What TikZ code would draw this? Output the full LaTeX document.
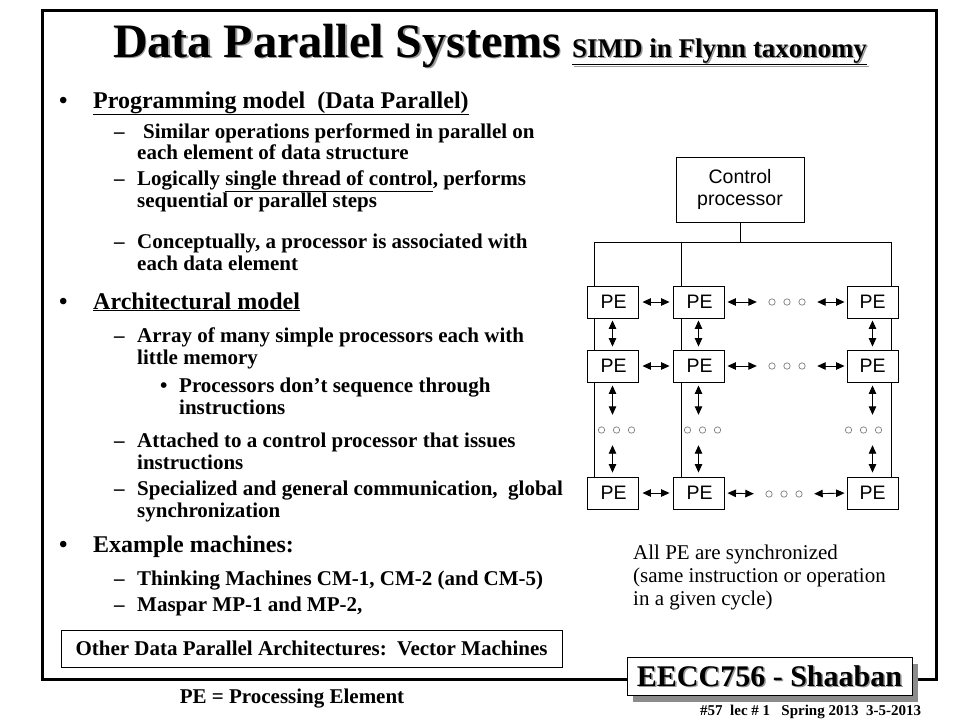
\documentclass[tikz,border=0pt]{standalone}
\usepackage{fontspec}
\setmainfont{Liberation Serif}
\newfontfamily\arialf{Liberation Sans}
\usetikzlibrary{arrows.meta,shadows}
\newcommand\shtext[2]{\rlap{\kern#1\raisebox{-#1}{\textcolor{black!40}{#2}}}#2}
\tikzset{
  bul/.style={anchor=base west, inner sep=0pt, font=\bfseries\fontsize{24}{28}\selectfont},
  sub/.style={anchor=base west, inner sep=0pt, font=\bfseries\fontsize{21}{24}\selectfont},
  plain/.style={anchor=base west, inner sep=0pt, font=\fontsize{21}{24}\selectfont},
  pebox/.style={draw, fill=white, line width=0.9pt, minimum width=51pt, minimum height=32pt, inner sep=0pt, font=\arialf\fontsize{19.5}{22}\selectfont},
  biarrow/.style={{Triangle[length=8.5pt,width=7.5pt]}-{Triangle[length=8.5pt,width=7.5pt]}, line width=0.9pt},
  wire/.style={line width=0.9pt},
  dotsnode/.style={inner sep=0pt, minimum width=40pt, minimum height=10pt},
  smalldot/.style={draw=black!50, line width=0.7pt, fill=white},
}
\begin{document}
\begin{tikzpicture}[x=1pt,y=-1pt]
\useasboundingbox (0,0) rectangle (960,720);
\fill[white] (0,0) rectangle (960,720);
% frame
\draw[line width=3pt] (42,10) rectangle (936,679);

% title
\node[anchor=base west, inner sep=0pt, font=\bfseries\fontsize{48}{50}\selectfont] (title) at (113,57) {\shtext{1.5pt}{Data Parallel Systems}};
\node[anchor=base west, inner sep=0pt, font=\bfseries\fontsize{27}{30}\selectfont] (subtitle) at (572,57) {\shtext{1.5pt}{\underline{SIMD in Flynn taxonomy}}};

% left text
\node[bul] (b1) at (59,108) {•};
\node[bul] (t1) at (93,108) {\underline{Programming model\ \ (Data Parallel)}};
\node[sub] (d11) at (114,138) {–};
\node[sub] (t11a) at (143,138) {Similar operations performed in parallel on};
\node[sub] (t11b) at (137,159) {each element of data structure};
\node[sub] (d12) at (114,185) {–};
\node[sub] (t12a) at (137,185) {Logically \underline{single thread of control}, performs};
\node[sub] (t12b) at (137,207) {sequential or parallel steps};
\node[sub] (d13) at (114,248) {–};
\node[sub] (t13a) at (137,248) {Conceptually, a processor is associated with};
\node[sub] (t13b) at (137,270) {each data element};

\node[bul] (b2) at (59,309) {•};
\node[bul] (t2) at (93,309) {\underline{Architectural model}};
\node[sub] (d21) at (114,342) {–};
\node[sub] (t21a) at (137,342) {Array of many simple processors each with};
\node[sub] (t21b) at (137,364) {little memory};
\node[sub] (b211) at (160,392) {•};
\node[sub] (t211a) at (179,392) {Processors don’t sequence through};
\node[sub] (t211b) at (179,414) {instructions};
\node[sub] (d22) at (114,447) {–};
\node[sub] (t22a) at (137,447) {Attached to a control processor that issues};
\node[sub] (t22b) at (137,469) {instructions};
\node[sub] (d23) at (114,495) {–};
\node[sub] (t23a) at (137,495) {Specialized and general communication,\ \ global};
\node[sub] (t23b) at (137,517) {synchronization};

\node[bul] (b3) at (59,552) {•};
\node[bul] (t3) at (93,552) {Example machines:};
\node[sub] (d31) at (114,585) {–};
\node[sub] (t31) at (137,585) {Thinking Machines CM-1, CM-2 (and CM-5)};
\node[sub] (d32) at (114,611) {–};
\node[sub] (t32) at (137,611) {Maspar MP-1 and MP-2,};

\node[draw, line width=0.9pt, minimum width=501pt, minimum height=37pt, inner sep=0pt, font=\bfseries\fontsize{21}{24}\selectfont] (other) at (311.5,648.5) {Other Data Parallel Architectures:\ \ Vector Machines};

\node[anchor=base, inner sep=0pt, font=\bfseries\fontsize{21}{24}\selectfont] (peeq) at (292,703) {PE = Processing Element};

% EECC box
\node[draw, fill=white, line width=0.9pt, minimum width=285pt, minimum height=38pt, inner sep=0pt,
      drop shadow={shadow xshift=6pt, shadow yshift=-7pt, fill=black!45, opacity=1}] (eecc) at (769.5,676) {};
\node[anchor=base, inner sep=0pt, font=\bfseries\fontsize{30}{32}\selectfont] (eecct) at (769.5,686) {\shtext{1.5pt}{EECC756 - Shaaban}};
\node[anchor=base west, inner sep=0pt, font=\bfseries\fontsize{15}{17}\selectfont] (foot) at (700,715) {\#57\ \ lec \# 1\ \ \ Spring 2013\ \ 3-5-2013};

% right caption
\node[plain] (r1) at (633,559) {All PE are synchronized};
\node[plain] (r2) at (633,582) {(same instruction or operation};
\node[plain] (r3) at (633,605) {in a given cycle)};

% diagram: control processor and bus
\node[draw, line width=0.9pt, minimum width=128pt, minimum height=65pt, inner sep=0pt, align=center,
      font=\arialf\fontsize{19.5}{22}\selectfont] (ctrl) at (740,189.5) {Control\\processor};
\coordinate (bm) at (740,242);
\coordinate (bl) at (594,242);
\coordinate (bc) at (681,242);
\coordinate (br) at (891,242);
\draw[wire] (ctrl.south) -- (bm);
\draw[wire] (bl) -- (br);

% PE nodes
\node[pebox] (p11) at (612.5,302) {\kern2pt PE};
\node[pebox] (p12) at (698.5,302) {\kern2pt PE};
\node[pebox] (p13) at (872.5,302) {PE};
\node[pebox] (p21) at (612.5,366) {\kern2pt PE};
\node[pebox] (p22) at (698.5,366) {\kern2pt PE};
\node[pebox] (p23) at (872.5,366) {PE};
\node[pebox] (p31) at (612.5,493) {\kern2pt PE};
\node[pebox] (p32) at (698.5,493) {\kern2pt PE};
\node[pebox] (p33) at (872.5,493) {PE};

% vertical wires from bus, between boxes
\draw[wire] (bl) -- (bl |- p11.north);
\draw[wire] (bc) -- (bc |- p12.north);
\draw[wire] (br) -- (br |- p13.north);
\draw[wire] (bl |- p11.south) -- (bl |- p21.north);
\draw[wire] (bc |- p12.south) -- (bc |- p22.north);
\draw[wire] (br |- p13.south) -- (br |- p23.north);
\draw[wire] (bl |- p21.south) -- (bl |- p31.north);
\draw[wire] (bc |- p22.south) -- (bc |- p32.north);
\draw[wire] (br |- p23.south) -- (br |- p33.north);

% dots nodes
\node[dotsnode] (h1) at (787,302) {};
\node[dotsnode] (h2) at (787,366) {};
\node[dotsnode] (h3) at (784,494) {};
\node[dotsnode] (v1) at (612.5,430) {};
\node[dotsnode] (v2) at (698.5,430) {};
\node[dotsnode] (v3) at (872.5,430) {};
\foreach \n in {h1,h2,h3} {
  \foreach \dx in {-15,0,15} \draw[smalldot] ([xshift=\dx pt]\n.center) circle (3.2pt);
}
\foreach \n/\dx in {v1/4,v2/4,v3/-9} {
  \foreach \ddx in {-15,0,15} \draw[smalldot] ([xshift=\dx pt+\ddx pt]\n.center) circle (3.2pt);
}

% horizontal arrows
\foreach \r in {1,2,3} {
  \draw[biarrow, shorten <=4pt, shorten >=3pt] (p\r1.east) -- (p\r2.west);
  \draw[biarrow, shorten <=3pt, shorten >=10pt] (p\r2.east) -- (h\r.west);
  \draw[biarrow, shorten <=10pt, shorten >=2pt] (h\r.east) -- (p\r3.west);
}
% vertical arrows
\foreach \c in {1,2,3} {
  \draw[biarrow, shorten <=2pt, shorten >=3pt] (p1\c.south) -- (p2\c.north);
  \draw[biarrow, shorten <=3pt, shorten >=10pt] (p2\c.south) -- (v\c.north);
  \draw[biarrow, shorten <=10pt, shorten >=4pt] (v\c.south) -- (p3\c.north);
}
\end{tikzpicture}
\end{document}
